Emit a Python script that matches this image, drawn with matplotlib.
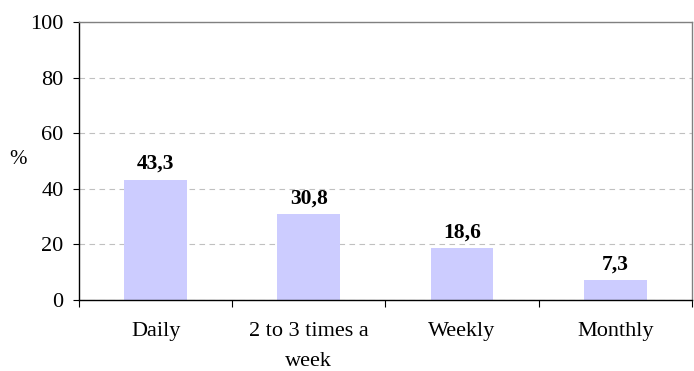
import matplotlib

matplotlib.use("Agg")
import matplotlib.pyplot as plt
import numpy as np

categories = ["Daily", "2 to 3 times a\nweek", "Weekly", "Monthly"]
values = [43.3, 30.8, 18.6, 7.3]
y_ticks = [0, 20, 40, 60, 80, 100]

plt.rcParams["font.family"] = ["Liberation Serif", "DejaVu Serif"]

fig = plt.figure(figsize=(6.94, 3.71), dpi=100)
ax = fig.add_axes([0.1138, 0.1914, 0.8832, 0.7493])

x = np.arange(len(categories))
ax.bar(x, values, width=0.41, color="#CCCCFF", zorder=2)

for xi, v in zip(x, values):
    ax.annotate(f"{v:.1f}".replace(".", ","), (xi, v), xytext=(0, 4),
                textcoords="offset points", ha="center", va="bottom",
                fontsize=15.5, fontweight="bold")

ax.set_xlim(-0.5, len(categories) - 0.5)
ax.set_ylim(0, 100)
ax.set_yticks(y_ticks)
ax.tick_params(axis="y", labelsize=16, length=4, direction="out", pad=7)

# category ticks sit at the boundaries, labels in the middle
ax.set_xticks(np.arange(len(categories) + 1) - 0.5)
ax.set_xticklabels([])
ax.set_xticks(x, minor=True)
ax.set_xticklabels(categories, minor=True, fontsize=16, linespacing=1.75)
ax.tick_params(axis="x", which="major", length=5, direction="out")
ax.tick_params(axis="x", which="minor", length=0, pad=16)

ax.yaxis.grid(True, color="#C0C0C0", linestyle=(0, (5, 4)), linewidth=0.8, zorder=0)
ax.spines["left"].set_color("black")
ax.spines["bottom"].set_color("black")
ax.spines["top"].set_color("#808080")
ax.spines["right"].set_color("#808080")
for s in ax.spines.values():
    s.set_linewidth(1.0)

fig.text(18 / 694, 1 - 160 / 371, "%", fontsize=15, ha="center", va="center")

fig.savefig("out.png", dpi=100)
